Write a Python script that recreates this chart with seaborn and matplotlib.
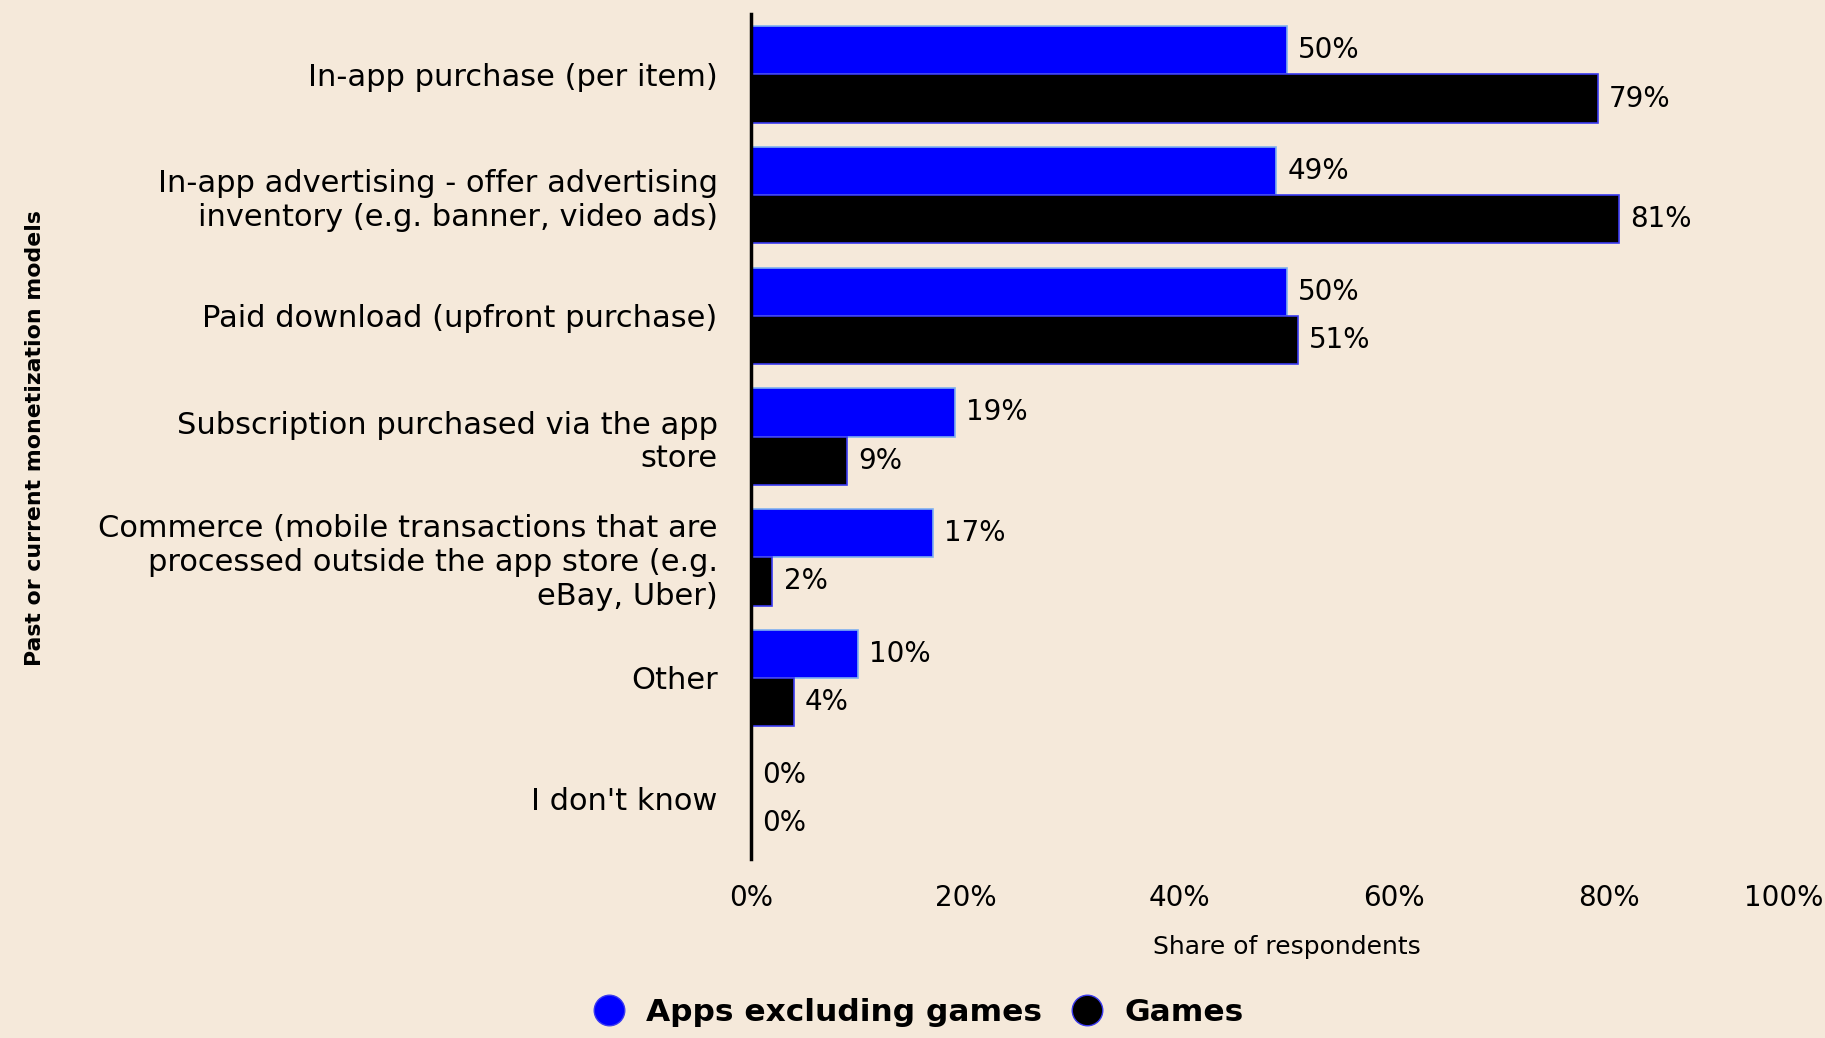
import matplotlib
matplotlib.use("Agg")
import matplotlib.pyplot as plt
from matplotlib.lines import Line2D
import seaborn as sns
import pandas as pd

categories = [
    "In-app purchase (per item)",
    "In-app advertising - offer advertising\ninventory (e.g. banner, video ads)",
    "Paid download (upfront purchase)",
    "Subscription purchased via the app\nstore",
    "Commerce (mobile transactions that are\nprocessed outside the app store (e.g.\neBay, Uber)",
    "Other",
    "I don't know",
]
apps_excluding_games = [50, 49, 50, 19, 17, 10, 0]
games = [79, 81, 51, 9, 2, 4, 0]
series_names = ["Apps excluding games", "Games"]
x_ticks = [0, 20, 40, 60, 80, 100]

bg = "#F5E9DA"
colors = {"Apps excluding games": "#0000FF", "Games": "#000000"}

df = pd.DataFrame({
    "category": categories * 2,
    "series": [series_names[0]] * len(categories) + [series_names[1]] * len(categories),
    "value": apps_excluding_games + games,
})

sns.set_theme(style="white")
plt.rcParams["font.family"] = ["DejaVu Sans"]
plt.rcParams["text.color"] = "black"

fig = plt.figure(figsize=(18.25, 10.38), dpi=100, facecolor=bg)
ax = fig.add_axes([0.4115, 0.1724, 0.5874, 0.8141])
ax.set_facecolor(bg)

sns.barplot(data=df, y="category", x="value", hue="series", order=categories,
            hue_order=series_names, palette=colors, orient="h", width=0.8,
            ax=ax, legend=False, saturation=1)

edge_cols = {0: "#7FB0F0", 1: "#3A3AF0"}
for i, cont in enumerate(ax.containers):
    for bar in cont:
        bar.set_edgecolor(edge_cols[i])
        bar.set_linewidth(1.2)
    ax.bar_label(cont, labels=[f"{v:g}%" for v in cont.datavalues],
                 padding=8, fontsize=20, color="black")

ax.set_xlim(0, 100)
ax.set_ylim(len(categories) - 0.5, -0.5)
ax.set_xticks(x_ticks)
ax.set_xticklabels([f"{t}%" for t in x_ticks], fontsize=20, color="black")
ax.get_xticklabels()[-1].set_ha("right")
ax.tick_params(axis="x", length=0, pad=18)
ax.tick_params(axis="y", length=0, pad=24, labelsize=22, labelcolor="black")
for lbl in ax.get_yticklabels():
    lbl.set_ha("right")
    lbl.set_multialignment("right")

for side in ["top", "right", "bottom"]:
    ax.spines[side].set_visible(False)
ax.spines["left"].set_color("black")
ax.spines["left"].set_linewidth(2.5)

ax.set_xlabel("Share of respondents", fontsize=18, color="black")
ax.xaxis.set_label_coords(0.50, -0.09)
ax.set_ylabel("")
fig.text(0.019, 0.578, "Past or current monetization models", rotation=90,
         fontsize=15.8, fontweight="bold", ha="center", va="center")

handles = [Line2D([0], [0], marker="o", linestyle="", markersize=22,
                  markerfacecolor=colors[s], markeredgecolor="#3A3AF0")
           for s in series_names]
fig.legend(handles, series_names, loc="center", bbox_to_anchor=(0.499, 0.0247),
           ncol=2, frameon=False, handletextpad=0.2, columnspacing=0.45,
           prop={"size": 22.5, "weight": "bold"})

fig.savefig("out.png", dpi=100, facecolor=bg)
